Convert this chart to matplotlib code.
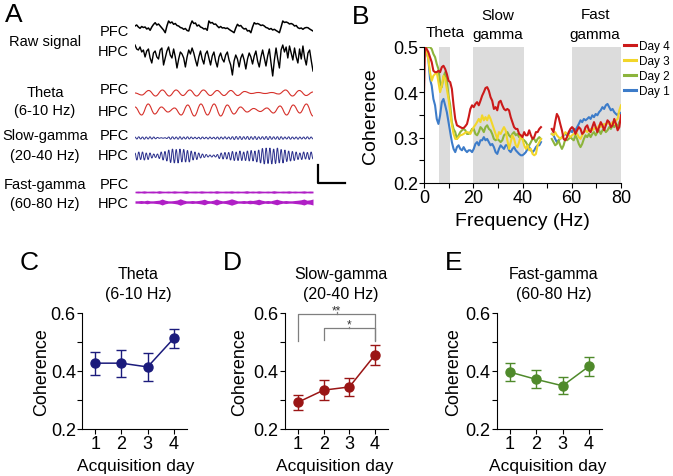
import numpy as np
import matplotlib
matplotlib.use('Agg')
import matplotlib.pyplot as plt
from matplotlib.path import Path
from matplotlib.patches import PathPatch
from matplotlib.lines import Line2D

plt.rcParams['font.family'] = ['Liberation Sans', 'DejaVu Sans']

W, H = 673, 477

# ---------------- data ----------------
# panel A: example traces (pixel-ish amplitude, positive = up)
raw_pfc = [1, 2, 0, -1.3, 0.5, -0.5, 0, -2, -1, -3.3, 0, 2.5, 4.3, 2, 3, 1, -1, -3, -5.7, 1,
           6, 4, 5, 2.7, 3.5, 1.5, 1, -0.5, -1, -2.3, -1.5, -3.5, -4, 2, 6, 3.5, 4, 1, 2, 0,
           -0.7, -2, -1.5, -3.3, 6, 4, 4.5, 2.7, 3, 1, -0.7, 0.5, -1, -0.7, -1.5, -1, -2.3, -3.5, -4.5, -5.7,
           -1, 2.7, 1, 1.5, -0.7, -2, -1.5, -4, -3.5, -5.7, 0, 4.3, 3, 3.5, 2.7, 1.5, 2, 1, -0.5, -1,
           -2.3, -1.5, -3, -2.3, -3.5, -4.5, -5.7, 0, 6, 4.5, 5, 4.3, 3, 3.5, 2.7, 1, 1.5, -0.7, -1.5, -1,
           -2.3, -1, -0.5, -0.7, -2, -3, -4]
raw_hpc = [10, 6, 5, 8, 3, 5, -2, 4, 6, -3, -8, 2, 4, -2, -4, 5, 7, -10, -3, 4,
           8, 0, -3, 6, -2, -13, -4, 3, 1, -3, -12, -2, 5, 1, 7, 2, -5, -11, -2, 4,
           -4, -9, 1, 4, -3, -10, -1, 3, -6, -12, -2, 2, -4, -7, 0, 3, -5, -10, -20, -6,
           0, -4, -12, -3, 1, -5, -14, -4, 2, -2, -9, -1, 4, -6, -12, -2, 5, -3, -11, -1,
           6, -8, -21, -5, 7, -4, -13, 5, 10, 3, 8, -3, 9, 2, -5, 7, -2, -8, 6, -4,
           9, -3, -10, 2, 5, -6, -16]
theta_pfc = [0, -2, 2.5, -3, 3, -3, 3, -2.5, 3, -3, 3, -2.5, 2.5, -2.5, 2.5, -2.5, 1.5, -0.5,
             0.5, -0.5, 0.5, -1, 3, -3, 2.5, -2.5, 1]
theta_hpc = [3, -5, 6, -4, 3, -2, 2, -5, 5, -6, 6, -5, 6, -6, 5, -4, 3, -2, 1.5, -1.5,
             2, -3, 4, -5, 5, -3, 6, -6]
slow_pfc = [1, -1, 1.2, -1, 1, -1.2, 1, -1, 1.2, -1, 1, -0.8, 0.6,
            -0.3, 0.3, -0.3, 0.3, -0.5,
            1, -1.2, 1.2, -1, 1, -1.2, 1.3, -1.2, 1, -1, 1.2, -1, 1, -0.8, 0.8, -0.8, 0.8, -1, 1, -0.8,
            0.8, -1, 1, -0.8, 0.8, -1, 1, -1.2, 1, -1, 1.2, -1, 1,
            -1.2, 1.3, -1.5, 1.5, -1.3, 1.5, -1.5, 1.3, -1.2, 1.5, -1.5, 1.3, -1.3, 1.5, -1.5, 1.2,
            -1.2, 1.3, -1.3, 1.5, -1.6, 1.5, -1.3, 1.2, -1.2, 1.3, -1.5, 1.3, -1.2, 1, -1, 1.2, -1.2,
            1, -1, 1, -1.2, 1, -1, 1, -1, 1.2, -1, 1, -1]
slow_hpc = [3, -4, 4, -3.5, 4, -4, 3, -3.5, 3,
            -2, 2, -1.5, 2, -2.5,
            4, -4, 4.5, -5,
            6, -6.5, 7, -7, 6.5, -7, 7, -6, 6.5, -6, 5.5, -6, 5,
            -4, 4, -3.5, 3,
            -2, 2, -1.5, 1.5,
            -1, 1, -1, 1, -1, 1.5,
            -2.5, 3, -3, 3.5, -3, 3.5,
            -4, 4.5, -4.5, 4, -4.5, 5, -4.5, 4, -4.5, 5,
            -5, 5.5, -5, 5, -6, 6,
            -7, 7.5, -8, 8, -7.5, 8, -8, 7, -7.5, 8, -7, 6.5, -7, 6,
            -5.5, 5, -5, 4.5, -4.5, 4,
            -3.5, 3, -3.5, 4, -3, 3.5, -3.5, 4, -3]
fast_pfc = [0.8, 1.0, 0.8, 1.2, 0.8, 0.9, 1.0, 0.8, 1.3, 0.9, 0.8, 1.0, 0.8, 1.2, 0.9, 0.8, 1.0, 1.3, 0.8, 0.9,
            1.0, 0.8, 1.2, 0.9, 0.8, 1.0, 0.8, 1.3, 0.9, 0.8, 1.0, 0.9, 1.2, 0.8, 1.0, 0.8, 0.9, 1.3, 0.8, 1.0,
            0.8, 1.2, 0.9, 0.8, 1.0, 0.8, 1.3, 0.9, 0.8, 1.0, 0.9, 1.2, 0.8, 1.0, 0.8, 0.9, 1.2, 0.8, 1.0, 0.9]
fast_hpc = [1.2, 1.2, 1.5, 1.2, 1.8, 1.2, 1.2, 1.5, 1.8, 3.0, 1.8, 1.2, 1.2, 1.5, 2.0, 3.2, 2.0, 1.2, 1.2, 1.5,
            1.2, 1.5, 2.0, 2.8, 1.5, 1.2, 1.8, 3.0, 1.8, 1.2, 1.5, 2.2, 3.2, 2.2, 1.2, 1.2, 1.5, 1.2, 1.8, 1.5,
            2.0, 2.8, 1.8, 1.2, 1.5, 1.2, 2.0, 2.8, 1.8, 1.2, 1.5, 1.2, 1.2, 1.5, 1.8, 2.2, 3.0, 1.8, 2.2, 3.0]

# panel B: coherence spectra, two segments (line-noise gap around 50 Hz)
freq_lo = np.concatenate([[0], np.linspace(0.4, 47.5, 70)])
freq_hi = np.linspace(51.9, 80, 42)
day4_lo = [0.40, 0.499, 0.495, 0.488, 0.477, 0.466, 0.447, 0.444, 0.444, 0.447, 0.444,
           0.455, 0.458, 0.451, 0.440, 0.425, 0.422, 0.407, 0.371, 0.341, 0.327,
           0.325, 0.323, 0.321, 0.321, 0.325, 0.330, 0.345, 0.363, 0.371, 0.367,
           0.374, 0.378, 0.371, 0.381, 0.392, 0.400, 0.409, 0.411, 0.403, 0.389,
           0.381, 0.363, 0.367, 0.360, 0.378, 0.381, 0.371, 0.363, 0.360, 0.363,
           0.360, 0.345, 0.334, 0.323, 0.319, 0.319, 0.308, 0.305, 0.301, 0.312,
           0.305, 0.305, 0.316, 0.305, 0.297, 0.301, 0.312, 0.312, 0.319, 0.323]
day3_lo = [0.49, 0.499, 0.488, 0.473, 0.444, 0.425, 0.436, 0.440, 0.444, 0.422, 0.400,
           0.414, 0.436, 0.429, 0.407, 0.385, 0.356, 0.327, 0.308, 0.297, 0.297,
           0.301, 0.305, 0.306, 0.308, 0.311, 0.312, 0.311, 0.308, 0.316, 0.323,
           0.328, 0.334, 0.341, 0.334, 0.349, 0.338, 0.345, 0.338, 0.349, 0.341,
           0.330, 0.319, 0.308, 0.297, 0.312, 0.308, 0.316, 0.323, 0.316, 0.294,
           0.275, 0.290, 0.305, 0.297, 0.283, 0.279, 0.290, 0.305, 0.297, 0.283,
           0.275, 0.283, 0.272, 0.275, 0.264, 0.261, 0.264, 0.283, 0.290, 0.297]
day2_lo = [0.49, 0.499, 0.499, 0.499, 0.499, 0.495, 0.484, 0.477, 0.462, 0.451, 0.422,
           0.411, 0.433, 0.444, 0.425, 0.392, 0.371, 0.334, 0.319, 0.312, 0.297,
           0.305, 0.312, 0.316, 0.319, 0.316, 0.308, 0.308, 0.312, 0.319, 0.319,
           0.308, 0.305, 0.312, 0.323, 0.319, 0.312, 0.323, 0.327, 0.319, 0.316,
           0.308, 0.297, 0.294, 0.297, 0.294, 0.290, 0.294, 0.305, 0.308, 0.312,
           0.305, 0.301, 0.308, 0.312, 0.305, 0.308, 0.301, 0.301, 0.297, 0.294,
           0.290, 0.283, 0.283, 0.290, 0.297, 0.297, 0.290, 0.297, 0.301, 0.297]
day1_lo = [0.49, 0.495, 0.488, 0.473, 0.429, 0.414, 0.385, 0.371, 0.341, 0.330, 0.349,
           0.378, 0.385, 0.371, 0.356, 0.334, 0.312, 0.290, 0.275, 0.268, 0.279,
           0.283, 0.275, 0.272, 0.279, 0.272, 0.268, 0.272, 0.272, 0.268, 0.275,
           0.286, 0.290, 0.283, 0.294, 0.294, 0.301, 0.294, 0.297, 0.290, 0.283,
           0.286, 0.279, 0.268, 0.264, 0.275, 0.283, 0.279, 0.275, 0.283, 0.283,
           0.272, 0.268, 0.275, 0.279, 0.272, 0.268, 0.264, 0.261, 0.261, 0.264,
           0.268, 0.275, 0.279, 0.272, 0.268, 0.272, 0.279, 0.283, 0.283, 0.290]
day4_hi = [0.319, 0.312, 0.334, 0.352, 0.345, 0.330, 0.316, 0.297, 0.294, 0.301, 0.312,
           0.319, 0.323, 0.319, 0.308, 0.316, 0.323, 0.319, 0.308, 0.312, 0.323,
           0.327, 0.316, 0.312, 0.323, 0.334, 0.323, 0.312, 0.323, 0.334, 0.327,
           0.316, 0.327, 0.338, 0.334, 0.323, 0.327, 0.341, 0.330, 0.316, 0.323, 0.349]
day3_hi = [0.308, 0.305, 0.312, 0.305, 0.301, 0.297, 0.301, 0.305, 0.312, 0.308, 0.305,
           0.301, 0.305, 0.308, 0.312, 0.308, 0.301, 0.297, 0.305, 0.312, 0.316,
           0.312, 0.316, 0.319, 0.316, 0.319, 0.323, 0.319, 0.327, 0.323, 0.327,
           0.330, 0.327, 0.334, 0.330, 0.327, 0.334, 0.330, 0.338, 0.341, 0.360, 0.371]
day2_hi = [0.297, 0.290, 0.283, 0.286, 0.294, 0.283, 0.275, 0.283, 0.297, 0.294, 0.297,
           0.301, 0.297, 0.294, 0.305, 0.297, 0.286, 0.279, 0.286, 0.297, 0.305,
           0.301, 0.308, 0.301, 0.308, 0.312, 0.305, 0.312, 0.316, 0.308, 0.316,
           0.319, 0.312, 0.316, 0.323, 0.319, 0.327, 0.323, 0.330, 0.323, 0.334, 0.338]
day1_hi = [0.308, 0.305, 0.297, 0.290, 0.294, 0.297, 0.301, 0.305, 0.308, 0.305, 0.308,
           0.316, 0.312, 0.319, 0.316, 0.323, 0.330, 0.338, 0.334, 0.341, 0.338,
           0.341, 0.345, 0.341, 0.349, 0.345, 0.352, 0.349, 0.356, 0.360, 0.367,
           0.363, 0.371, 0.374, 0.367, 0.360, 0.363, 0.356, 0.352, 0.349, 0.356, 0.352]
bands = [(6, 10.5), (20, 40.5), (60, 80)]

# panels C-E: band coherence per day (mean, sem)
days = [1, 2, 3, 4]
theta_coh = [0.427, 0.427, 0.414, 0.513]
theta_err = [0.040, 0.047, 0.048, 0.033]
slow_coh = [0.292, 0.334, 0.345, 0.456]
slow_err = [0.026, 0.035, 0.030, 0.035]
fast_coh = [0.396, 0.371, 0.349, 0.416]
fast_err = [0.030, 0.031, 0.030, 0.034]

# ---------------- figure ----------------
fig = plt.figure(figsize=(W / 100, H / 100), dpi=100)


def px_axes(x0, y0, x1, y1):
    return fig.add_axes([x0 / W, 1 - y1 / H, (x1 - x0) / W, (y1 - y0) / H])


def ftext(x, y, s, **kw):
    kw.setdefault('ha', 'center')
    kw.setdefault('va', 'center')
    fig.text(x / W, 1 - y / H, s, **kw)


def smooth_trace(ax, vals, base, color, lw):
    v = base - np.asarray(vals, float)
    x = np.linspace(0, 1, len(v))
    dx = x[1] - x[0]
    verts = [(x[0], v[0])]
    codes = [Path.MOVETO]
    for i in range(1, len(v)):
        verts += [(x[i - 1] + 0.4 * dx, v[i - 1]), (x[i] - 0.4 * dx, v[i]), (x[i], v[i])]
        codes += [Path.CURVE4] * 3
    ax.add_patch(PathPatch(Path(verts, codes), fill=False, ec=color, lw=lw))


# ---- panel A ----
ax_a = px_axes(135, 15, 313, 215)
ax_a.set_xlim(0, 1)
ax_a.set_ylim(215, 15)
ax_a.axis('off')

ax_a.plot(np.linspace(0, 1, len(raw_pfc)), 28 - np.array(raw_pfc), color='black', lw=1.1)
ax_a.plot(np.linspace(0, 1, len(raw_hpc)), 56 - np.array(raw_hpc), color='black', lw=1.0)
smooth_trace(ax_a, theta_pfc, 94, '#d6302a', 0.8)
smooth_trace(ax_a, theta_hpc, 111, '#d6302a', 0.8)
smooth_trace(ax_a, slow_pfc, 139, '#2a2f8c', 0.7)
smooth_trace(ax_a, slow_hpc, 157, '#2a2f8c', 0.7)
xf = np.linspace(0, 1, len(fast_pfc))
ax_a.fill_between(xf, 193 - np.array(fast_pfc), 193 + np.array(fast_pfc), color='#b01fc6', lw=0)
xf = np.linspace(0, 1, len(fast_hpc))
ax_a.fill_between(xf, 203 - np.array(fast_hpc), 203 + np.array(fast_hpc), color='#b01fc6', lw=0)

# scale bar
fig.add_artist(Line2D([318 / W, 318 / W, 345 / W], [1 - 166 / H, 1 - 184 / H, 1 - 184 / H],
                      color='black', lw=1.6))

lab = dict(fontsize=10.5)
ftext(5, 15, 'A', ha='left', fontsize=19)
ftext(45, 42, 'Raw signal', **lab)
ftext(45, 93, 'Theta', **lab)
ftext(45, 111, '(6-10 Hz)', **lab)
ftext(45, 136, 'Slow-gamma', **lab)
ftext(45, 156, '(20-40 Hz)', **lab)
ftext(45, 185, 'Fast-gamma', **lab)
ftext(45, 204, '(60-80 Hz)', **lab)
for y, s in [(32, 'PFC'), (52, 'HPC'), (90, 'PFC'), (112, 'HPC'),
             (136, 'PFC'), (156, 'HPC'), (185, 'PFC'), (204, 'HPC')]:
    ftext(129, y, s, ha='right', **lab)

# ---- panel B ----
ax_b = px_axes(424, 47.7, 621, 184)
for lo, hi in bands:
    ax_b.axvspan(lo, hi, color='#dcdcdc', lw=0)
series = [(day1_lo, day1_hi, '#3d7cc9', 'Day 1'),
          (day2_lo, day2_hi, '#8cb43c', 'Day 2'),
          (day3_lo, day3_hi, '#f2d62a', 'Day 3'),
          (day4_lo, day4_hi, '#cc1a1a', 'Day 4')]
handles = []
for lo, hi, c, name in series:
    h, = ax_b.plot(freq_lo, lo, color=c, lw=1.5, label=name)
    ax_b.plot(freq_hi, hi, color=c, lw=1.5)
    handles.append(h)
ax_b.set_xlim(0, 80)
ax_b.set_ylim(0.2, 0.5)
ax_b.set_xticks([0, 20, 40, 60, 80])
ax_b.set_xticks([10, 30, 50, 70], minor=True)
ax_b.set_yticks([0.2, 0.3, 0.4, 0.5])
ax_b.set_yticklabels(['0.2', '0.3', '0.4', '0.5'])
ax_b.set_yticks([0.25, 0.35, 0.45], minor=True)
for s in ['top', 'right']:
    ax_b.spines[s].set_visible(False)
ax_b.tick_params(which='both', direction='out', length=3.5, width=0.8, labelsize=13, pad=1)
leg = ax_b.legend(handles=handles[::-1], loc='upper left', frameon=False, fontsize=8.5,
                  bbox_to_anchor=(624 / W, 1 - 41 / H), bbox_transform=fig.transFigure,
                  handlelength=1.0, handletextpad=0.3, labelspacing=0.25, borderpad=0,
                  borderaxespad=0)
for line in leg.get_lines():
    line.set_linewidth(2.2)

ftext(352, 17, 'B', ha='left', fontsize=19)
ftext(445, 33, 'Theta', fontsize=11)
ftext(498, 16, 'Slow', fontsize=11)
ftext(498, 35, 'gamma', fontsize=11)
ftext(595, 15, 'Fast', fontsize=11)
ftext(595, 35, 'gamma', fontsize=11)
ftext(371, 116, 'Coherence', rotation=90, fontsize=14)
ftext(522, 222, 'Frequency (Hz)', fontsize=14)

# ---- panels C-E ----
panels = [(82, 187, 'C', 'Theta', '(6-10 Hz)', theta_coh, theta_err, '#1b1b7c', 20, 42, 136),
          (285, 388, 'D', 'Slow-gamma', '(20-40 Hz)', slow_coh, slow_err, '#9a1515', 223, 240, 335),
          (497, 602, 'E', 'Fast-gamma', '(60-80 Hz)', fast_coh, fast_err, '#4f8a2b', 445, 454, 548)]
axes_ce = []
for x0, x1, letter, t1, t2, m, e, c, lx, ylx, tx in panels:
    ax = px_axes(x0, 314, x1, 430)
    ax.errorbar(days, m, yerr=e, color=c, lw=1.1, marker='o', ms=6.5,
                capsize=3.5, elinewidth=1.0, capthick=1.0)
    ax.set_xlim(0.5, 4.5)
    ax.set_ylim(0.2, 0.6)
    ax.set_xticks(days)
    ax.set_yticks([0.2, 0.4, 0.6])
    ax.set_yticklabels(['0.2', '0.4', '0.6'])
    ax.set_yticks([0.3, 0.5], minor=True)
    for s in ['top', 'right']:
        ax.spines[s].set_visible(False)
    ax.tick_params(which='both', direction='out', length=3.5, width=0.8, labelsize=13, pad=1)
    ftext(lx, 263, letter, ha='left', fontsize=19)
    ftext((x0 + x1) / 2 + 4, 275, t1, fontsize=11.5)
    ftext((x0 + x1) / 2 + 4, 295, t2, fontsize=11.5)
    ftext(ylx, 372, 'Coherence', rotation=90, fontsize=13)
    ftext(tx, 467, 'Acquisition day', fontsize=12.5)
    axes_ce.append(ax)

# significance brackets on panel D
ax_d = axes_ce[1]
gray = '#7f7f7f'
ax_d.plot([1, 1, 4, 4], [0.502, 0.598, 0.598, 0.504], color=gray, lw=0.9, clip_on=False)
ax_d.plot([2.5, 2.5], [0.598, 0.603], color=gray, lw=0.9, clip_on=False)
ax_d.text(2.5, 0.599, '**', ha='center', va='baseline', fontsize=8.5, color='#333333')
ax_d.plot([2, 2, 4, 4], [0.508, 0.548, 0.548, 0.508], color=gray, lw=0.9, clip_on=False)
ax_d.plot([3, 3], [0.548, 0.553], color=gray, lw=0.9, clip_on=False)
ax_d.text(3, 0.549, '*', ha='center', va='baseline', fontsize=8.5, color='#333333')

fig.savefig('out.png', dpi=100)
